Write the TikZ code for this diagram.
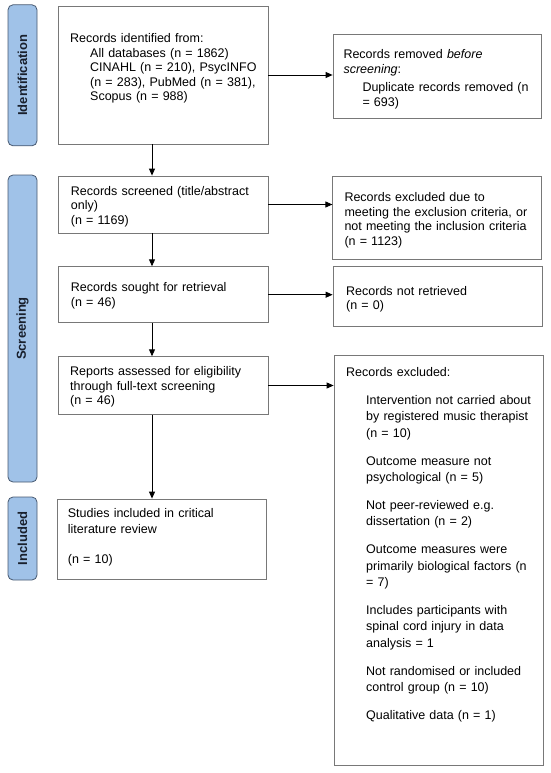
\documentclass[tikz,border=0pt]{standalone}
\usepackage{fontspec}
\setmainfont{Liberation Sans}
\usepackage{tikz}
\usepackage{xcolor}
\usetikzlibrary{arrows.meta}

\definecolor{boxline}{RGB}{120,120,120}
\definecolor{stagefill}{RGB}{160,194,232}
\definecolor{stageline}{RGB}{70,88,112}
\definecolor{stagetext}{RGB}{25,32,45}

\tikzset{
  flowbox/.style={draw=boxline, line width=0.8pt, inner sep=0pt},
  boxtext/.style={anchor=base west, inner sep=0pt, text width=205pt, align=left,
    font=\fontsize{12.5}{14.5}\selectfont},
  widetext/.style={boxtext, font=\fontsize{12.5}{16.6}\selectfont},
  stage/.style={draw=stageline, fill=stagefill, line width=0.8pt, rounded corners=5pt,
    rotate=90, minimum height=29pt, inner sep=0pt, text=stagetext,
    font=\fontsize{13}{15}\selectfont\bfseries},
  arr/.style={-{Triangle[length=7pt,width=6pt]}, line width=0.9pt, black}
}

\begin{document}
\begin{tikzpicture}[x=1pt,y=-1pt]
  \useasboundingbox (0,0) rectangle (550,773);

  % stages on the left
  \node[stage, minimum width=141pt] (identstage) at (22.5,75.3) {Identification};
  \node[stage, minimum width=307pt] (screenstage) at (22.5,328.5) {Screening};
  \node[stage, minimum width=83pt] (inclstage) at (22.5,538.5) {Included};

  % main column
  \node[flowbox, minimum width=210pt, minimum height=138pt] (ident) at (163,75) {};
  \node[flowbox, minimum width=210pt, minimum height=57pt] (screen) at (163,204.5) {};
  \node[flowbox, minimum width=210pt, minimum height=56pt] (sought) at (163,294.7) {};
  \node[flowbox, minimum width=210pt, minimum height=57.6pt] (assess) at (163,385.5) {};
  \node[flowbox, minimum width=209pt, minimum height=80pt] (incl) at (161.5,539) {};

  % right column
  \node[flowbox, minimum width=208pt, minimum height=84pt] (removed) at (437,76) {};
  \node[flowbox, minimum width=209pt, minimum height=83pt] (excl) at (437.3,217.5) {};
  \node[flowbox, minimum width=209pt, minimum height=60pt] (notret) at (437.5,296.7) {};
  \node[flowbox, minimum width=209pt, minimum height=410pt] (bigexcl) at (438.5,560) {};

  % texts
  \node[boxtext] (identtxt) at (70,42.7) {Records identified from:\\
    \hspace*{20pt}All databases (n = 1862)\\
    \hspace*{20pt}CINAHL (n = 210), PsycINFO\\
    \hspace*{20pt}(n = 283), PubMed (n = 381),\\
    \hspace*{20pt}Scopus (n = 988)};
  \node[boxtext] (removedtxt) at (343.3,58.7) {Records removed \textit{before}\\
    \textit{screening}:\\[4pt]
    \hspace*{19pt}Duplicate records removed (n\\
    \hspace*{19pt}= 693)};
  \node[boxtext] (screentxt) at (70.7,195) {Records screened (title/abstract\\
    only)\\(n = 1169)};
  \node[boxtext] (excltxt) at (344.3,201.7) {Records excluded due to\\
    meeting the exclusion criteria, or\\
    not meeting the inclusion criteria\\(n = 1123)};
  \node[boxtext] (soughttxt) at (70.7,291.7) {Records sought for retrieval\\(n = 46)};
  \node[boxtext] (notrettxt) at (346,295) {Records not retrieved\\(n = 0)};
  \node[boxtext] (assesstxt) at (70,375.7) {Reports assessed for eligibility\\
    through full-text screening\\(n = 46)};
  \node[widetext] (incltxt) at (67.7,517.3) {Studies included in critical\\
    literature review\\[12.6pt](n = 10)};
  \node[widetext] (bigexcltxt) at (346,376) {Records excluded:\\[11.7pt]
    \hspace*{20pt}Intervention not carried about\\
    \hspace*{20pt}by registered music therapist\\
    \hspace*{20pt}(n = 10)\\[11pt]
    \hspace*{20pt}Outcome measure not\\
    \hspace*{20pt}psychological (n = 5)\\[11pt]
    \hspace*{20pt}Not peer-reviewed e.g.\\
    \hspace*{20pt}dissertation (n = 2)\\[11pt]
    \hspace*{20pt}Outcome measures were\\
    \hspace*{20pt}primarily biological factors (n\\
    \hspace*{20pt}= 7)\\[11pt]
    \hspace*{20pt}Includes participants with\\
    \hspace*{20pt}spinal cord injury in data\\
    \hspace*{20pt}analysis = 1\\[11pt]
    \hspace*{20pt}Not randomised or included\\
    \hspace*{20pt}control group (n = 10)\\[11pt]
    \hspace*{20pt}Qualitative data (n = 1)};

  % arrows
  \coordinate (spine) at (152,0);
  \draw[arr] (ident.south -| spine) -- (screen.north -| spine);
  \draw[arr] (screen.south -| spine) -- (sought.north -| spine);
  \draw[arr] (sought.south -| spine) -- (assess.north -| spine);
  \draw[arr] (assess.south -| spine) -- (incl.north -| spine);
  \draw[arr] (ident.east) -- (ident.east -| removed.west);
  \draw[arr] (screen.east) -- (screen.east -| excl.west);
  \draw[arr] (sought.east) -- (sought.east -| notret.west);
  \draw[arr] (assess.east) -- (assess.east -| bigexcl.west);
\end{tikzpicture}
\end{document}
